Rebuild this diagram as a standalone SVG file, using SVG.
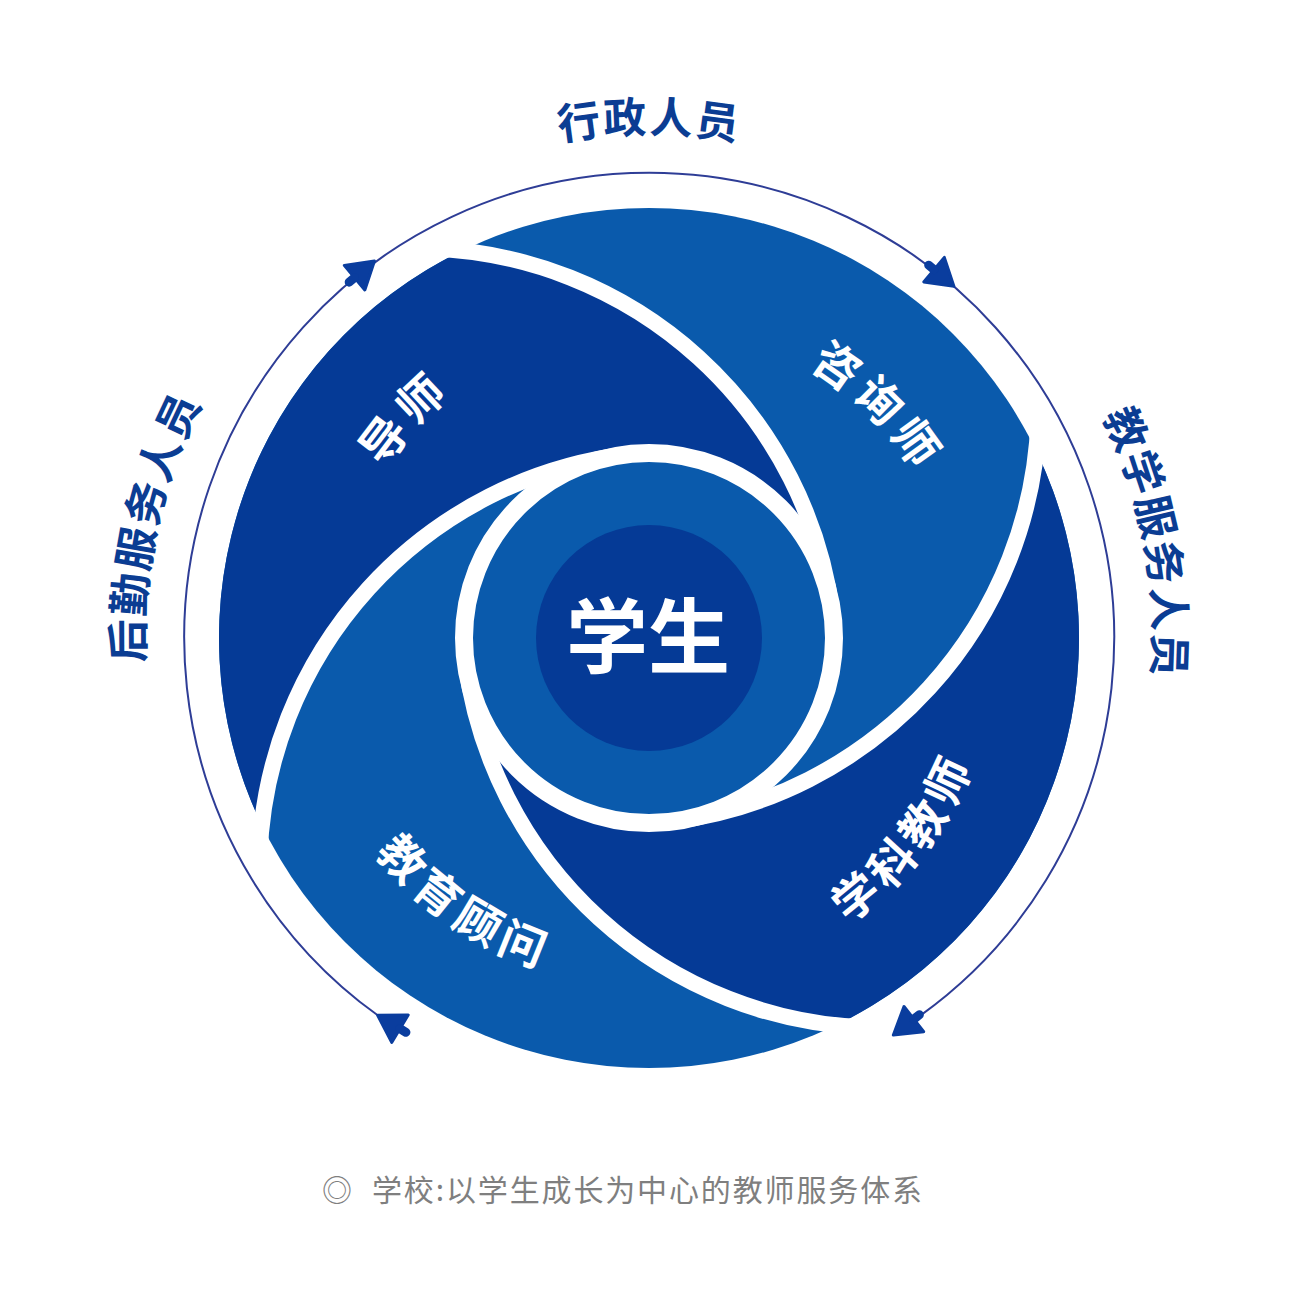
<svg xmlns="http://www.w3.org/2000/svg" width="1311" height="1307" viewBox="0 0 1311 1307">
<style>
.light{fill:#0A5AAC}
.dark{fill:#053A96}
.sep{fill:none;stroke:#FFFFFF;stroke-width:16}
.ring{fill:#0A5AAC;stroke:#FFFFFF;stroke-width:18}
.outer-label{font-family:"Noto Sans CJK SC","Noto Sans CJK JP",sans-serif;font-weight:700;font-size:43px;fill:#0B3D93;letter-spacing:2px}
.blade-label{font-family:"Noto Sans CJK SC","Noto Sans CJK JP",sans-serif;font-weight:700;font-size:46px;fill:#FFFFFF;letter-spacing:6px}
.center-label{font-family:"Noto Sans CJK SC","Noto Sans CJK JP",sans-serif;font-weight:700;font-size:82px;fill:#FFFFFF}
.caption{font-family:"Noto Sans CJK SC","Noto Sans CJK JP",sans-serif;font-size:30px;fill:#7F7F7F}
.flow{fill:none;stroke:#2E3D96;stroke-width:2}
.head{fill:#0A3D9E;stroke:#0A3D9E;stroke-width:3;stroke-linejoin:round}
.stub{stroke:#0A3D9E;stroke-width:9;stroke-linecap:round}
</style>
<defs>
<path id="outerPath" d="M 649,1143 A 505,505 0 1 1 649,133 A 505,505 0 1 1 649,1143"/>
<path id="cwPath" d="M 649,952 A 314,314 0 1 1 649,324 A 314,314 0 1 1 649,952"/>
<path id="ccwPath" d="M 649,290 A 348,348 0 1 0 649,986 A 348,348 0 1 0 649,290"/>
<g id="arrowHead">
<path class="head" d="M 13,0 L -13,-16 L -13,16 Z"/>
<line class="stub" x1="-13" y1="0" x2="-20" y2="0"/>
</g>
</defs>

<g id="disc">
<circle class="light" cx="649" cy="638" r="430"/>
</g>

<g id="blade-daoshi">
<path class="dark" d="M 261.8,825 A 430 430 0 0 1 462,250.8 A 420 420 0 0 1 832.5,614.2 A 185 185 0 0 0 625.2,454.5 A 420 420 0 0 0 261.8,825 Z"/>
</g>
<g id="blade-xuekejiaoshi">
<path class="dark" d="M 1036.2,451 A 430 430 0 0 1 836,1025.2 A 420 420 0 0 1 465.5,661.8 A 185 185 0 0 0 672.8,821.5 A 420 420 0 0 0 1036.2,451 Z"/>
</g>

<g id="separators">
<path class="sep" d="M 430.6,248.5 A 420 420 0 0 1 832.5,614.2"/>
<path class="sep" d="M 1038.5,419.6 A 420 420 0 0 1 672.8,821.5"/>
<path class="sep" d="M 867.4,1027.5 A 420 420 0 0 1 465.5,661.8"/>
<path class="sep" d="M 259.5,856.4 A 420 420 0 0 1 625.2,454.5"/>
</g>

<g id="node-student">
<circle class="ring" cx="649" cy="638" r="185"/>
<circle class="dark" cx="649" cy="638" r="113"/>
<text class="center-label" x="648" y="667" text-anchor="middle">学生</text>
</g>

<g id="label-daoshi">
<text class="blade-label" text-anchor="middle"><textPath href="#cwPath" startOffset="36.68%">导师</textPath></text>
</g>
<g id="label-zixunshi">
<text class="blade-label" text-anchor="middle"><textPath href="#cwPath" startOffset="62.4%">咨询师</textPath></text>
</g>
<g id="label-jiaoyuguwen">
<text class="blade-label" text-anchor="middle"><textPath href="#ccwPath" startOffset="40.34%">教育顾问</textPath></text>
</g>
<g id="label-xuekejiaoshi">
<text class="blade-label" text-anchor="middle"><textPath href="#ccwPath" startOffset="64.44%">学科教师</textPath></text>
</g>

<g id="connectors">
<path class="flow" d="M 377.7,1015.3 A 465 465 0 1 1 920.3,1015.6"/>
<use href="#arrowHead" transform="translate(364.5,269.3) rotate(-40)"/>
<use href="#arrowHead" transform="translate(944,278) rotate(40)"/>
<use href="#arrowHead" transform="translate(903.6,1027.1) rotate(142)"/>
<use href="#arrowHead" transform="translate(388.8,1022) rotate(211)"/>
</g>

<g id="node-xingzheng">
<text class="outer-label" text-anchor="middle"><textPath href="#outerPath" startOffset="50%">行政人员</textPath></text>
</g>
<g id="node-houqin">
<text class="outer-label" text-anchor="middle"><textPath href="#outerPath" startOffset="28.49%">后勤服务人员</textPath></text>
</g>
<g id="node-jiaoxue">
<text class="outer-label" text-anchor="middle"><textPath href="#outerPath" startOffset="72%">教学服务人员</textPath></text>
</g>

<g id="caption">
<text class="caption" x="337" y="1201" text-anchor="middle">◎</text>
<text class="caption" x="372" y="1201" textLength="550" lengthAdjust="spacing">学校:以学生成长为中心的教师服务体系</text>
</g>
</svg>
